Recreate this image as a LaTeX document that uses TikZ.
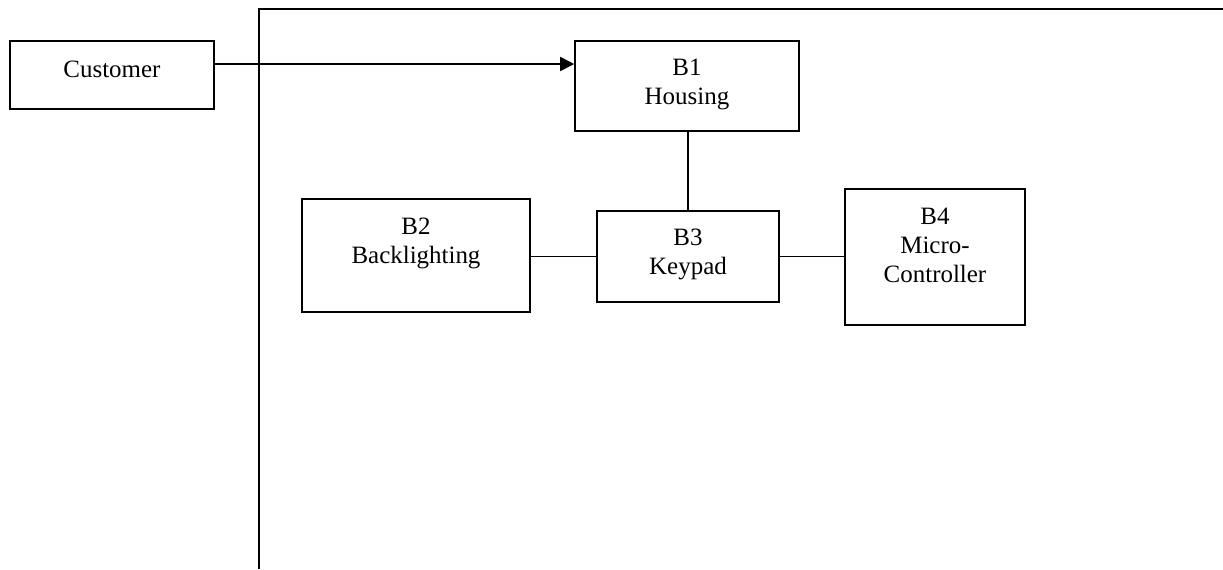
\documentclass[tikz,border=0pt]{standalone}
\usepackage{fontspec}
\setmainfont{Liberation Serif}
\usetikzlibrary{arrows.meta}
\begin{document}
\begin{tikzpicture}[x=0.02cm,y=-0.02cm,
  blk/.style={draw,line width=0.9pt,inner sep=0pt,rectangle},
  lbl/.style={inner sep=0pt,align=center,anchor=north,font=\fontsize{14.2}{16.3}\selectfont},
  wire/.style={line width=0.9pt}]
\useasboundingbox (0,0) rectangle (1223,569);
% frame
\coordinate (ftl) at (259,9);
\coordinate (ftr) at (1223,9);
\coordinate (fbl) at (259,569);
\draw[wire] (ftr) -- (ftl) -- (fbl);
% boxes
\node[blk,minimum width=4.08cm,minimum height=1.36cm] (custb) at (112,75) {};
\node[lbl] (custt) at (112,61) {Customer};
\node[blk,minimum width=4.48cm,minimum height=1.8cm] (b1) at (687,86) {};
\node[lbl] (b1t) at (687,59) {B1\\Housing};
\node[blk,minimum width=4.56cm,minimum height=2.26cm] (b2) at (416,255.5) {};
\node[lbl] (b2t) at (416,218) {B2\\Backlighting};
\node[blk,minimum width=3.64cm,minimum height=1.82cm] (b3) at (688,256.5) {};
\node[lbl] (b3t) at (688,229) {B3\\Keypad};
\node[blk,minimum width=3.6cm,minimum height=2.72cm] (b4) at (935,257) {};
\node[lbl] (b4t) at (935,208) {B4\\Micro-\\Controller};
% connectors
\coordinate (ay) at (0,64);
\draw[wire,-{Triangle[length=8pt,width=8pt]}] (custb.east |- ay) -- (b1.west |- ay);
\draw[wire] (b1.south -| b3.north) -- (b3.north);
\draw[wire] (b3.west) -- (b3.west -| b2.east);
\draw[wire] (b3.east) -- (b3.east -| b4.west);
\end{tikzpicture}
\end{document}
